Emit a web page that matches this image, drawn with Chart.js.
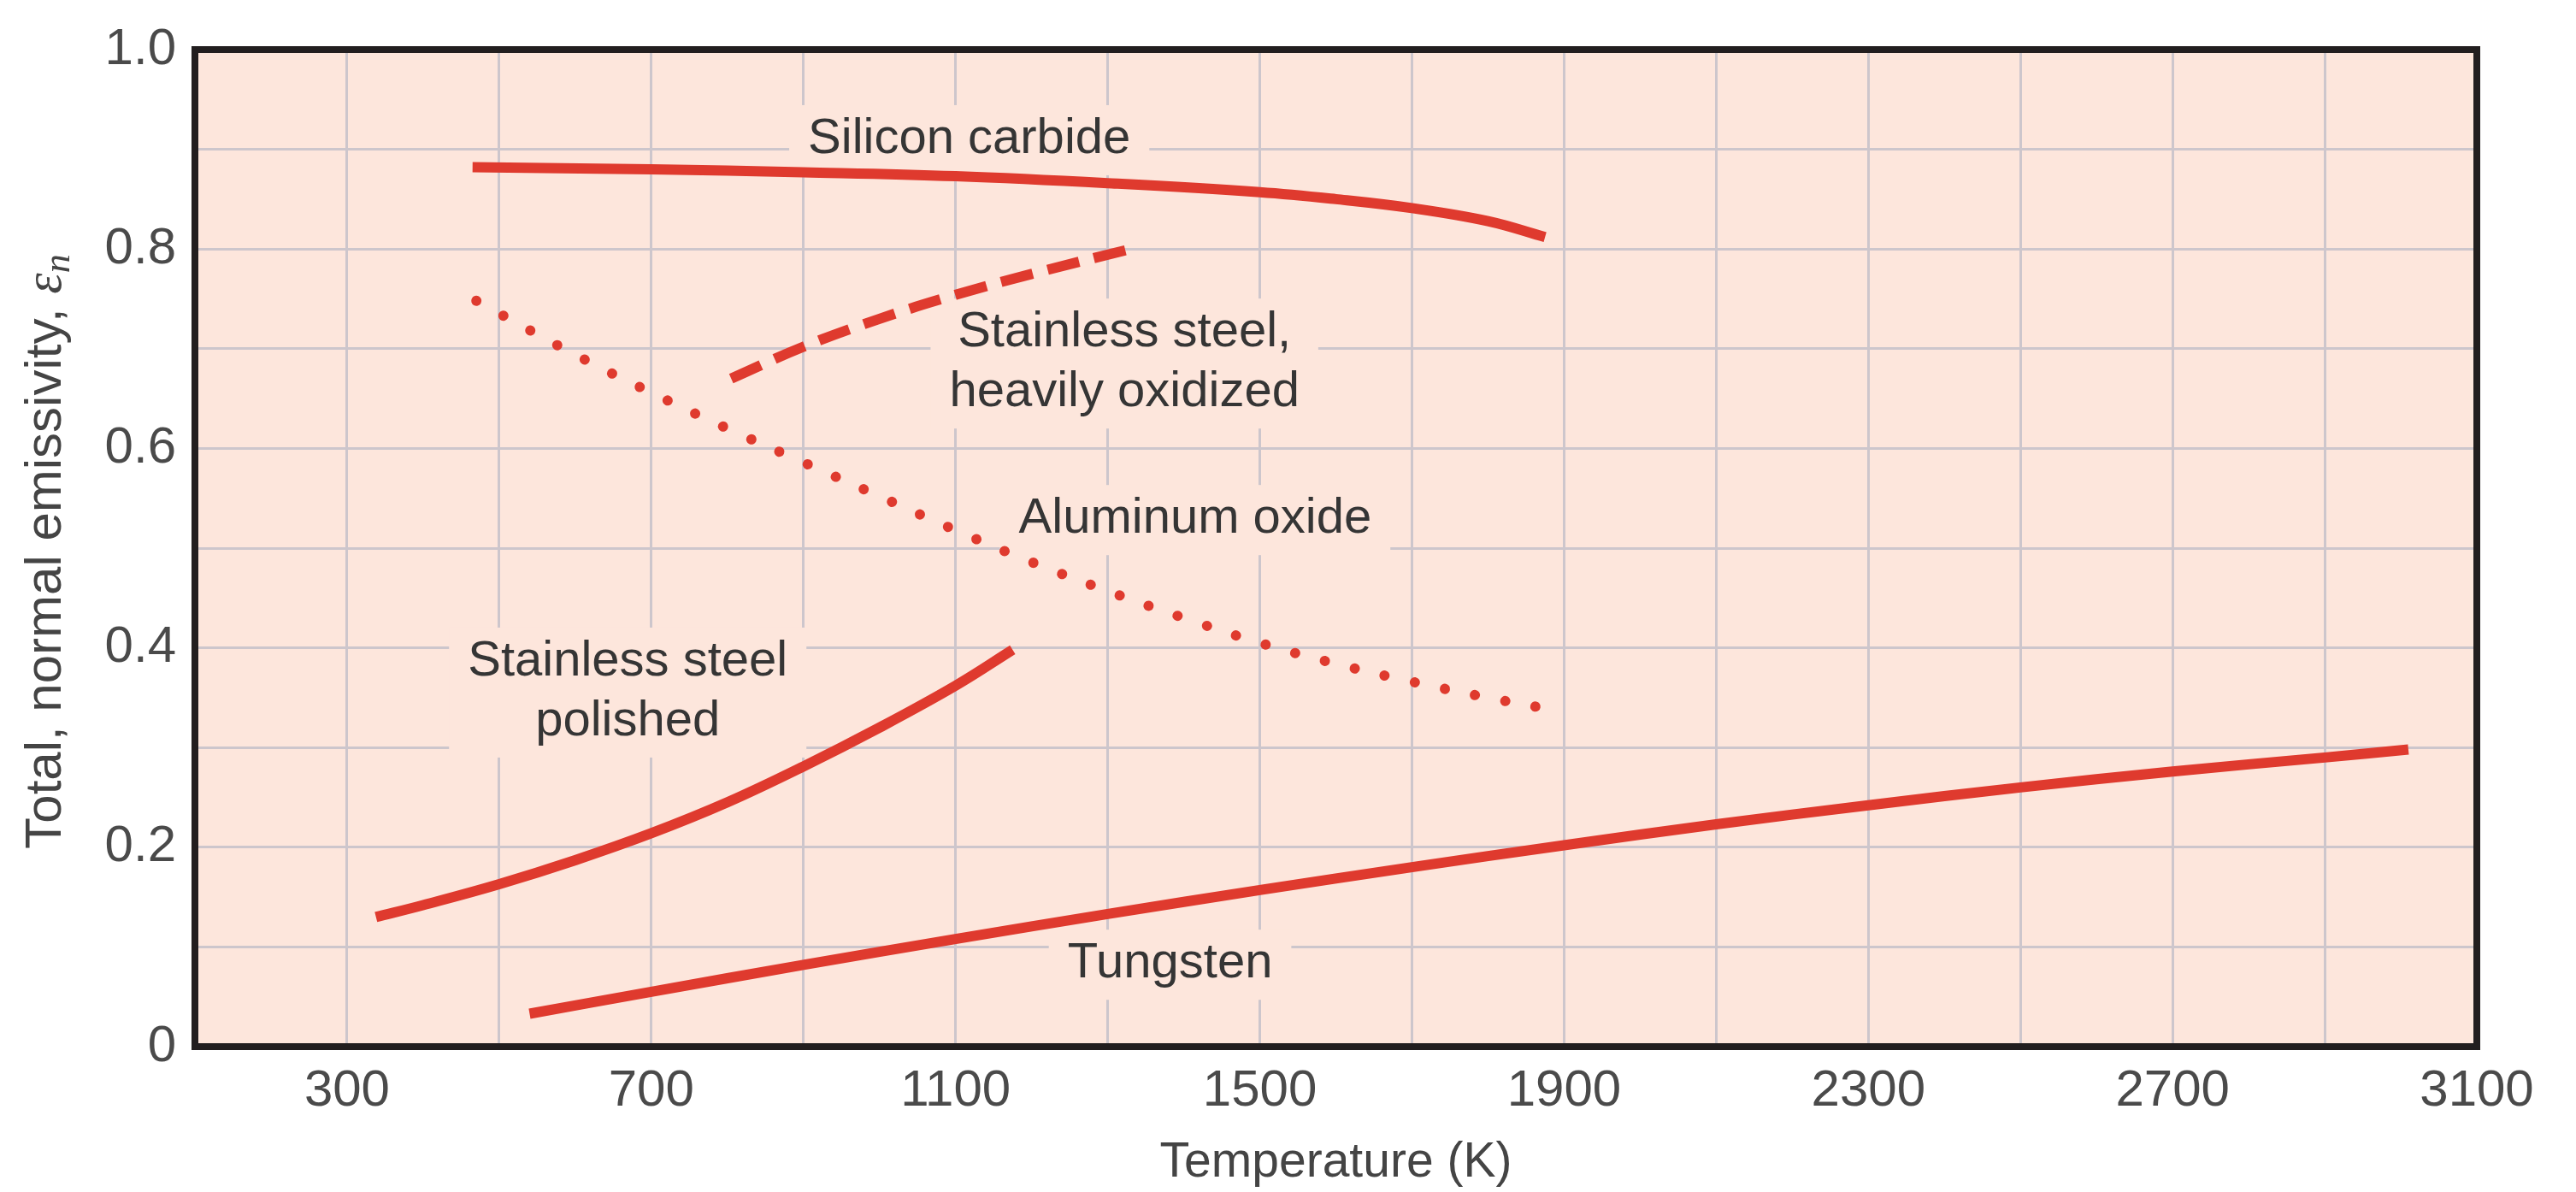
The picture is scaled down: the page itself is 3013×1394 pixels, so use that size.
<!DOCTYPE html>
<html>
<head>
<meta charset="utf-8">
<style>
  html, body { margin: 0; padding: 0; background: #ffffff; }
  canvas { display: block; }
</style>
<script src="https://cdn.jsdelivr.net/npm/chart.js@4.4.1/dist/chart.umd.min.js"></script>
</head>
<body>
<canvas id="chart" width="3013" height="1394"></canvas>
<script>
// ---- Data ----
const siliconCarbideT = [465, 700, 900, 1100, 1300, 1500, 1600, 1700, 1800, 1875];
const siliconCarbideE = [0.882, 0.880, 0.877, 0.873, 0.866, 0.857, 0.850, 0.841, 0.828, 0.812];

const ssOxidizedT = [805, 900, 1000, 1100, 1200, 1330];
const ssOxidizedE = [0.670, 0.702, 0.730, 0.754, 0.775, 0.800];

const aluminaT = [470, 600, 700, 800, 900, 1000, 1100, 1200, 1300, 1400, 1500, 1600, 1700, 1800, 1870];
const aluminaE = [0.748, 0.694, 0.656, 0.620, 0.586, 0.552, 0.518, 0.486, 0.457, 0.430, 0.405, 0.384, 0.366, 0.350, 0.340];

const ssPolishedT = [338, 400, 500, 600, 700, 800, 900, 1000, 1100, 1175];
const ssPolishedE = [0.130, 0.142, 0.163, 0.187, 0.214, 0.245, 0.281, 0.320, 0.362, 0.398];

const tungstenT = [540, 700, 900, 1100, 1300, 1500, 1700, 1900, 2100, 2300, 2500, 2700, 2900, 3010];
const tungstenE = [0.033, 0.055, 0.082, 0.108, 0.133, 0.157, 0.180, 0.202, 0.223, 0.242, 0.260, 0.276, 0.290, 0.298];

const xTickValues = [100, 300, 500, 700, 900, 1100, 1300, 1500, 1700, 1900, 2100, 2300, 2500, 2700, 2900, 3100];
const xTickLabels = ['', '300', '', '700', '', '1100', '', '1500', '', '1900', '', '2300', '', '2700', '', '3100'];
const yTickValues = [0, 0.1, 0.2, 0.3, 0.4, 0.5, 0.6, 0.7, 0.8, 0.9, 1.0];
const yTickLabels = ['0', '', '0.2', '', '0.4', '', '0.6', '', '0.8', '', '1.0'];

// In-plot curve labels: text lines and anchor (temperature, emissivity) of the first line
const curveLabelLines = [
  ['Silicon carbide'],
  ['Stainless steel,', 'heavily oxidized'],
  ['Aluminum oxide'],
  ['Stainless steel', 'polished'],
  ['Tungsten']
];
const curveLabelT = [1118, 1322, 1415, 669, 1382];
const curveLabelE = [0.910, 0.716, 0.529, 0.386, 0.083];

const xTitle = 'Temperature (K)';
const yTitleMain = 'Total, normal emissivity, ';
const yTitleSymbol = 'ε';
const yTitleSub = 'n';

// ---- Styling ----
const FONT = "'Liberation Sans', Arial, Helvetica, sans-serif";
const RED = '#df3a2e';
const PLOT_BG = '#fde6dc';
const GRID = '#cdc6cc';

function pts(xs, ys) { return xs.map((x, i) => ({ x: x, y: ys[i] })); }

const datasets = [
  { label: 'Silicon carbide', data: pts(siliconCarbideT, siliconCarbideE),
    borderColor: RED, borderWidth: 12, borderCapStyle: 'butt' },
  { label: 'Stainless steel, heavily oxidized', data: pts(ssOxidizedT, ssOxidizedE),
    borderColor: RED, borderWidth: 12, borderDash: [38, 18], borderCapStyle: 'butt' },
  { label: 'Aluminum oxide', data: pts(aluminaT, aluminaE),
    borderColor: RED, borderWidth: 12, borderDash: [0.01, 36], borderCapStyle: 'round' },
  { label: 'Stainless steel polished', data: pts(ssPolishedT, ssPolishedE),
    borderColor: RED, borderWidth: 12, borderCapStyle: 'butt' },
  { label: 'Tungsten', data: pts(tungstenT, tungstenE),
    borderColor: RED, borderWidth: 12, borderCapStyle: 'butt' }
].map(d => Object.assign({ pointRadius: 0, pointHoverRadius: 0, fill: false,
  tension: 0.4 }, d));

const LABEL_FONT = '58px ' + FONT;
const LINE_GAP = 70;

const decorations = {
  id: 'decorations',
  beforeDraw(chart) {
    const { ctx, chartArea: a } = chart;
    ctx.save();
    ctx.fillStyle = PLOT_BG;
    ctx.fillRect(a.left, a.top, a.right - a.left, a.bottom - a.top);
    ctx.restore();
  },
  beforeDatasetsDraw(chart) {
    const { ctx } = chart;
    const xs = chart.scales.x, ys = chart.scales.y;
    ctx.save();
    ctx.font = LABEL_FONT;
    ctx.fillStyle = PLOT_BG;
    curveLabelLines.forEach((lines, i) => {
      const cx = xs.getPixelForValue(curveLabelT[i]);
      const cy = ys.getPixelForValue(curveLabelE[i]);
      const w = Math.max(...lines.map(l => ctx.measureText(l).width));
      const top = cy - 40;
      const bottom = cy + (lines.length - 1) * LINE_GAP + 42;
      ctx.fillRect(cx - w / 2 - 22, top, w + 44, bottom - top);
    });
    ctx.restore();
  },
  afterDatasetsDraw(chart) {
    const { ctx } = chart;
    const xs = chart.scales.x, ys = chart.scales.y;
    ctx.save();
    ctx.font = LABEL_FONT;
    ctx.fillStyle = '#353535';
    ctx.textAlign = 'center';
    ctx.textBaseline = 'middle';
    curveLabelLines.forEach((lines, i) => {
      const cx = xs.getPixelForValue(curveLabelT[i]);
      const cy = ys.getPixelForValue(curveLabelE[i]);
      lines.forEach((l, k) => ctx.fillText(l, cx, cy + k * LINE_GAP));
    });
    ctx.restore();
  },
  afterDraw(chart) {
    const { ctx, chartArea: a } = chart;
    ctx.save();
    ctx.strokeStyle = '#221e1f';
    ctx.lineWidth = 8;
    ctx.strokeRect(a.left, a.top, a.right - a.left, a.bottom - a.top);
    const mainFont = '60px ' + FONT;
    const symFont = 'italic 62px "Liberation Serif", "DejaVu Serif", serif';
    const subFont = 'italic 44px "Liberation Serif", "DejaVu Serif", serif';
    ctx.font = mainFont; const w1 = ctx.measureText(yTitleMain).width;
    ctx.font = symFont; const w2 = ctx.measureText(yTitleSymbol).width;
    ctx.font = subFont; const w3 = ctx.measureText(yTitleSub).width;
    const total = w1 + w2 + w3;
    ctx.translate(50, (a.top + a.bottom) / 2 + 4);
    ctx.rotate(-Math.PI / 2);
    ctx.fillStyle = '#444444';
    ctx.textAlign = 'left';
    ctx.textBaseline = 'alphabetic';
    let x0 = -total / 2;
    const base = 21;
    ctx.font = mainFont; ctx.fillText(yTitleMain, x0, base); x0 += w1;
    ctx.font = symFont; ctx.fillText(yTitleSymbol, x0, base); x0 += w2;
    ctx.font = subFont; ctx.fillText(yTitleSub, x0, base + 10);
    ctx.restore();
  }
};

Chart.defaults.font.family = FONT;

new Chart(document.getElementById('chart'), {
  type: 'line',
  data: { datasets: datasets },
  options: {
    responsive: false,
    animation: false,
    devicePixelRatio: 1,
    events: [],
    layout: { padding: { left: 0, right: 116, top: 39, bottom: 0 } },
    plugins: { legend: { display: false }, tooltip: { enabled: false } },
    scales: {
      x: {
        type: 'linear',
        min: 100, max: 3100,
        afterBuildTicks: s => { s.ticks = xTickValues.map(v => ({ value: v })); },
        afterFit: s => { s.height = 170; },
        ticks: {
          autoSkip: false, maxRotation: 0, minRotation: 0,
          padding: 16,
          color: '#4a4a4a',
          font: { size: 60, family: FONT },
          callback: (v, i) => xTickLabels[i]
        },
        grid: { color: GRID, lineWidth: 3, drawTicks: false },
        border: { display: false },
        title: {
          display: true, text: xTitle, color: '#444444',
          font: { size: 57, family: FONT },
          padding: { top: 0, bottom: 0 }
        }
      },
      y: {
        type: 'linear',
        min: 0, max: 1,
        afterBuildTicks: s => { s.ticks = yTickValues.map(v => ({ value: v })); },
        afterFit: s => { s.width = 228; },
        ticks: {
          autoSkip: false,
          padding: 22,
          color: '#4a4a4a',
          font: { size: 60, family: FONT },
          callback: (v, i) => yTickLabels[i]
        },
        grid: { color: GRID, lineWidth: 3, drawTicks: false },
        border: { display: false }
      }
    }
  },
  plugins: [decorations]
});
</script>
</body>
</html>
